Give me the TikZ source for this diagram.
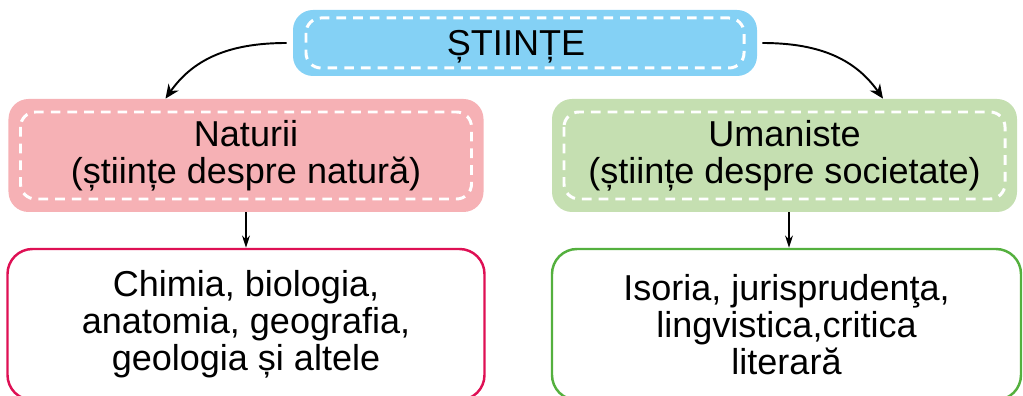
\documentclass[tikz,border=0pt]{standalone}
\usepackage{fontspec}
\setmainfont{Liberation Sans}
\usetikzlibrary{arrows.meta}
\definecolor{topblue}{RGB}{132,209,245}
\definecolor{natpink}{RGB}{246,177,181}
\definecolor{umgreen}{RGB}{197,223,177}
\definecolor{natline}{RGB}{222,16,84}
\definecolor{umline}{RGB}{84,176,62}
\tikzset{
  topic/.style={fill=#1, rounded corners=0.4cm, inner sep=0pt, align=center},
  dashin/.style 2 args={path picture={\draw[white, line width=1.7pt, dash pattern=on 5.5pt off 4pt, rounded corners=0.3cm]
      ([shift={(#1,-#2)}]path picture bounding box.north west) rectangle
      ([shift={(-#1,#2)}]path picture bounding box.south east);}},
  list/.style={draw=#1, line width=1.4pt, rounded corners=0.5cm, inner sep=0pt, align=center},
}
\begin{document}
\begin{tikzpicture}[font=\fontsize{20.5}{21}\selectfont]  % stiinte
	\useasboundingbox (0,0) rectangle (20.46,-7.92);
	\node[topic=topblue, dashin={0.26cm}{0.16cm}, minimum width=9.28cm, minimum height=1.32cm, text depth=0pt] (stiinte) at (10.5,-0.86) {ȘTIINȚE\hspace*{0.36cm}};
	\node[topic=natpink, dashin={0.24cm}{0.26cm}, minimum width=9.5cm, minimum height=2.26cm] (naturii) at (4.92,-3.11) {Naturii\\(științe despre natură)};
	\node[topic=umgreen, dashin={0.24cm}{0.26cm}, minimum width=9.3cm, minimum height=2.26cm] (umaniste) at (15.69,-3.11) {Umaniste\\(științe despre societate)};
	\node[list=natline, minimum width=9.54cm, minimum height=3.02cm] (natlist) at (4.92,-6.49) {Chimia, biologia,\\anatomia, geografia,\\geologia și altele};
	\node[list=umline, minimum width=9.38cm, minimum height=3.02cm] (umlist) at (15.73,-6.49) {Isoria, jurisprudenţa,\\lingvistica,critica\\literară};
	\draw[-{Stealth[length=8pt,width=7pt]}, line width=1.1pt] ([xshift=-0.12cm]stiinte.west) to[out=180, in=55] ([xshift=-1.61cm]naturii.north);
	\draw[-{Stealth[length=8pt,width=7pt]}, line width=1.1pt] ([xshift=0.1cm]stiinte.east) to[out=0, in=125] ([xshift=1.97cm]umaniste.north);
	\draw[-{Stealth[length=7pt,width=4.5pt]}, line width=0.8pt] (naturii.south) -- (naturii.south |- natlist.north);
	\draw[-{Stealth[length=7pt,width=4.5pt]}, line width=0.8pt] ([xshift=0.09cm]umaniste.south) -- ([xshift=0.09cm]umaniste.south |- umlist.north);
\end{tikzpicture}
\end{document}
